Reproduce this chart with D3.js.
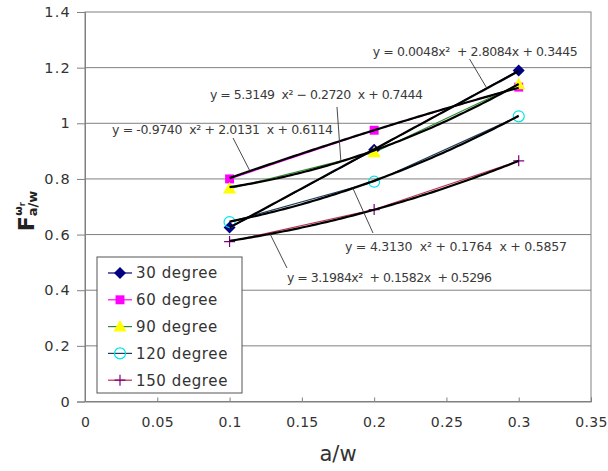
<!DOCTYPE html>
<html><head><meta charset="utf-8">
<script src="https://cdn.jsdelivr.net/npm/d3@7/dist/d3.min.js"></script>
<style>
html,body{margin:0;padding:0;background:#fff;}
svg{display:block;font-family:"DejaVu Sans",sans-serif;}
</style></head>
<body>
<svg id="chart" width="608" height="471"></svg>
<script>
// ---- data ----
const xValues = [0.1, 0.2, 0.3];
const seriesNames = ["30 degree", "60 degree", "90 degree", "120 degree", "150 degree"];
const s30  = [0.625, 0.905, 1.19];
const s60  = [0.80, 0.975, 1.13];
const s90  = [0.765, 0.895, 1.14];
const s120 = [0.645, 0.79, 1.025];
const s150 = [0.575, 0.69, 0.865];
const seriesValues = [s30, s60, s90, s120, s150];
// trendline coefficients [a, b, c] for y = a x^2 + b x + c
const coef30  = [0.0048, 2.8084, 0.3445];
const coef60  = [-0.9740, 2.0131, 0.6114];
const coef90  = [5.3149, -0.2720, 0.7444];
const coef120 = [4.3130, 0.1764, 0.5857];
const coef150 = [3.1984, 0.1582, 0.5296];
const coefs = [coef30, coef60, coef90, coef120, coef150];
const equationTexts = [
  "y = 0.0048x\u00B2  + 2.8084x + 0.3445",
  "y = -0.9740  x\u00B2 + 2.0131  x + 0.6114",
  "y = 5.3149  x\u00B2 \u2212 0.2720  x + 0.7444",
  "y = 4.3130  x\u00B2 + 0.1764  x + 0.5857",
  "y = 3.1984x\u00B2  + 0.1582x  + 0.5296"
];
const xTicks = [0, 0.05, 0.1, 0.15, 0.2, 0.25, 0.3, 0.35];
const xTickLabels = ["0", "0.05", "0.1", "0.15", "0.2", "0.25", "0.3", "0.35"];
const yTicks = [0, 0.2, 0.4, 0.6, 0.8, 1, 1.2, 1.4];
const yTickLabels = ["0", "0.2", "0.4", "0.6", "0.8", "1", "1.2", "1.4"];

// ---- styles ----
const lineColors = ["#000080", "#ff00ff", "#2e8b2e", "#1f3d5c", "#c03050"];
const markerColors = ["#000080", "#ff00ff", "#ffff00", "#00e5e5", "#800080"];
const markerTypes = ["diamond", "square", "triangle", "circle", "plus"];

const svg = d3.select("#chart");
const L = 85, R = 591, T = 12, B = 401.5;
const x = d3.scaleLinear().domain([0, 0.35]).range([L, R]);
const y = d3.scaleLinear().domain([0, 1.4]).range([B, T]);

// gridlines
svg.append("g").selectAll("line").data(yTicks.slice(1, -1)).join("line")
  .attr("x1", L).attr("x2", R).attr("y1", d => y(d)).attr("y2", d => y(d))
  .attr("stroke", "#808080").attr("stroke-width", 1);

// frame
svg.append("rect").attr("x", L).attr("y", T).attr("width", R - L).attr("height", B - T)
  .attr("fill", "none").attr("stroke", "#808080").attr("stroke-width", 1);

// y axis
const yAxis = d3.axisLeft(y).tickValues(yTicks).tickFormat((d, i) => yTickLabels[i]).tickSize(8).tickPadding(6);
const gy = svg.append("g").attr("transform", `translate(${L},0)`).call(yAxis);
gy.select(".domain").attr("stroke", "#808080");
gy.selectAll(".tick line").attr("stroke", "#808080");
gy.selectAll(".tick text").attr("font-size", 14.5).attr("fill", "#333")
  .attr("font-family", "DejaVu Sans, sans-serif").style("letter-spacing", "1.2px");

// x axis (ticks inside)
const xAxis = d3.axisBottom(x).tickValues(xTicks).tickFormat((d, i) => xTickLabels[i]).tickSize(-4).tickPadding(16);
const gx = svg.append("g").attr("transform", `translate(0,${B})`).call(xAxis);
gx.select(".domain").attr("stroke", "#808080");
gx.selectAll(".tick line").attr("stroke", "#808080");
gx.selectAll(".tick text").attr("font-size", 14).attr("fill", "#333")
  .attr("font-family", "DejaVu Sans, sans-serif").style("letter-spacing", "0.3px");

// axis titles
svg.append("text").attr("x", (L + R) / 2).attr("y", 461).attr("text-anchor", "middle")
  .attr("font-size", 21).attr("fill", "#333").text("a/w");

const yt = svg.append("text").attr("transform", "translate(34,211) rotate(-90)")
  .attr("text-anchor", "middle").attr("fill", "#222").attr("font-weight", "bold");
yt.append("tspan").attr("font-size", 22).text("F");
yt.append("tspan").attr("font-size", 13).attr("dy", 3).text("a/w");
yt.append("tspan").attr("font-size", 11).attr("dx", -25).attr("dy", -15).text("\u03C9");
yt.append("tspan").attr("font-size", 8).attr("dy", 3).text("r");

// marker drawing
function drawMarker(g, type, color, cx, cy) {
  if (type === "diamond") {
    const h = 6;
    g.append("path").attr("d", `M${cx},${cy - h}L${cx + h},${cy}L${cx},${cy + h}L${cx - h},${cy}Z`)
      .attr("fill", color);
  } else if (type === "square") {
    g.append("path").attr("d", d3.symbol(d3.symbolSquare, 80)())
      .attr("transform", `translate(${cx},${cy})`).attr("fill", color);
  } else if (type === "triangle") {
    g.append("path").attr("d", d3.symbol(d3.symbolTriangle, 75)())
      .attr("transform", `translate(${cx},${cy + 1})`).attr("fill", color);
  } else if (type === "circle") {
    g.append("circle").attr("cx", cx).attr("cy", cy).attr("r", 5.5)
      .attr("fill", "none").attr("stroke", color).attr("stroke-width", 1.2);
  } else if (type === "plus") {
    const h = 5.5;
    g.append("path").attr("d", `M${cx - h},${cy}H${cx + h}M${cx},${cy - h}V${cy + h}`)
      .attr("stroke", color).attr("stroke-width", 1.2).attr("fill", "none");
  }
}

// series lines
const line = d3.line().x(d => x(d[0])).y(d => y(d[1]));
seriesValues.forEach((vals, i) => {
  svg.append("path").datum(xValues.map((xv, j) => [xv, vals[j]]))
    .attr("d", line).attr("fill", "none").attr("stroke", lineColors[i]).attr("stroke-width", 1.2);
});

// markers
const gm = svg.append("g");
seriesValues.forEach((vals, i) => {
  vals.forEach((v, j) => drawMarker(gm, markerTypes[i], markerColors[i], x(xValues[j]), y(v)));
});

// trendlines
const poly = (c, t) => c[0] * t * t + c[1] * t + c[2];
const tSamples = d3.range(0.1, 0.30001, 0.0025);
coefs.forEach(c => {
  svg.append("path").datum(tSamples.map(t => [t, poly(c, t)]))
    .attr("d", line).attr("fill", "none").attr("stroke", "#000").attr("stroke-width", 2.2);
});

// equation label layout (data units): text start, text centre, leader start, leader end x on curve
const eqLayout = [
  {s: 0, tx: 0.199, ty: 1.256, w: 205, lx: 0.266, ly: 1.231, cx: 0.278},
  {s: 1, tx: 0.0187, ty: 0.976, w: 221, lx: 0.1024, ly: 0.947, cx: 0.1141},
  {s: 2, tx: 0.0864, ty: 1.1017, w: 213, lx: 0.1743, ly: 1.0586, cx: 0.177},
  {s: 3, tx: 0.1798, ty: 0.555, w: 222, lx: 0.1992, ly: 0.6057, cx: 0.1853},
  {s: 4, tx: 0.1397, ty: 0.444, w: 205, lx: 0.1397, ly: 0.48, cx: 0.128}
];
eqLayout.forEach(e => {
  svg.append("line").attr("x1", x(e.lx)).attr("y1", y(e.ly))
    .attr("x2", x(e.cx)).attr("y2", y(poly(coefs[e.s], e.cx)))
    .attr("stroke", "#333").attr("stroke-width", 0.9);
  svg.append("text").attr("x", x(e.tx)).attr("y", y(e.ty)).attr("dy", "0.35em")
    .attr("font-size", 12.5).attr("fill", "#3a3a3a").attr("xml:space", "preserve")
    .style("white-space", "pre")
    .attr("textLength", e.w).attr("lengthAdjust", "spacing")
    .text(equationTexts[e.s]);
});

// legend
const lg = svg.append("g");
lg.append("rect").attr("x", 97).attr("y", 257).attr("width", 145).attr("height", 136)
  .attr("fill", "#fff").attr("stroke", "#555").attr("stroke-width", 1);
seriesNames.forEach((name, i) => {
  const cy = 273 + i * 26.8;
  lg.append("line").attr("x1", 108).attr("x2", 132).attr("y1", cy).attr("y2", cy)
    .attr("stroke", lineColors[i]).attr("stroke-width", 1.2);
  drawMarker(lg, markerTypes[i], markerColors[i], 120, cy);
  lg.append("text").attr("x", 136).attr("y", cy).attr("dy", "0.36em")
    .attr("font-size", 15).attr("fill", "#333").style("letter-spacing", "0.6px").text(name);
});
</script>
</body></html>
